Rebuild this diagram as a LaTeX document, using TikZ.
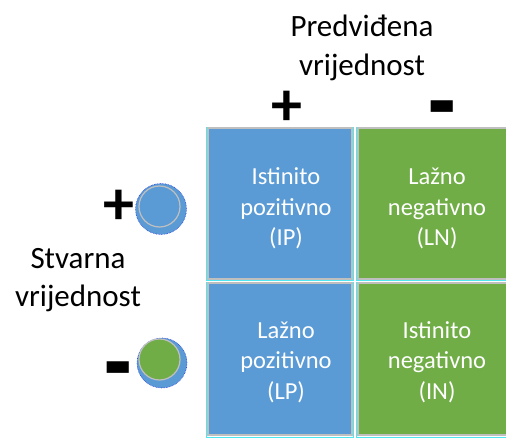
\documentclass[tikz,border=0pt]{standalone}
\usepackage{fontspec}
\setmainfont{Carlito}
\definecolor{cblue}{HTML}{5B9BD5}
\definecolor{cgreen}{HTML}{70AD47}
\definecolor{cgray}{HTML}{BFBFBF}
\definecolor{ccyan}{HTML}{4FE6F0}
\definecolor{cdot}{HTML}{2A3FE0}
\tikzset{
  cellbox/.style={draw=cgray, line width=1.5pt, minimum width=#1, inner sep=0pt, outer sep=0pt},
  cellbox/.default=144pt,
  halo/.style={draw=ccyan, line width=0.7pt},
  celltext/.style={text=white, align=center, font=\fontsize{24.5}{30.5}\selectfont, inner sep=0pt},
  headtext/.style={text=black, align=center, font=\fontsize{31}{38.5}\selectfont, inner sep=0pt},
  signtext/.style={text=black, font=\fontsize{62}{64}\bfseries\selectfont, inner sep=0pt},
  minustext/.style={text=black, font=\fontsize{56}{60}\bfseries\selectfont, inner sep=0pt, anchor=base},
  outerdisc/.style={circle, fill=cblue, draw=cdot, densely dotted, line width=0.6pt, minimum size=#1, inner sep=0pt},
  innerdisc/.style={circle, draw=cgray, line width=1.2pt, minimum size=41pt, inner sep=0pt},
}
\begin{document}
\begin{tikzpicture}[x=1pt,y=-1pt]
\clip (0,0) rectangle (506,438);
\fill[white] (0,0) rectangle (506,438);
% halos
\draw[halo] (206.8,127.3) rectangle (353,280.2);
\draw[halo] (356.8,127.3) rectangle (520,280.2);
\draw[halo] (206.8,282.3) rectangle (353,437.6);
\draw[halo] (356.8,282.3) rectangle (520,437.6);
% cells
\node[cellbox, fill=cblue, minimum height=151pt] (IP) at (280,203.5) {};
\node[cellbox=158pt, fill=cgreen, minimum height=151pt] (LN) at (437,203.5) {};
\node[cellbox, fill=cblue, minimum height=152pt] (LP) at (280,359) {};
\node[cellbox=158pt, fill=cgreen, minimum height=152pt] (IN) at (437,359) {};
\node[celltext] (tIP) at (286,208.5) {Istinito\\pozitivno\\(IP)};
\node[celltext] (tLN) at (437,208.5) {Lažno\\negativno\\(LN)};
\node[celltext] (tLP) at (286,362) {Lažno\\pozitivno\\(LP)};
\node[celltext] (tIN) at (437,362) {Istinito\\negativno\\(IN)};
% headers
\node[headtext] (pred) at (362,48) {Predviđena\\vrijednost};
\node[headtext] (stv) at (78,280) {Stvarna\\vrijednost};
% signs
\node[signtext] (pTop) at (287,108) {+};
\node[minustext] (mTop) at (442,139) {\scalebox{1.6}[2]{-}};
\node[signtext] (pLeft) at (119,207) {+};
\node[minustext] (mLeft) at (118,399) {\scalebox{1.6}[2]{-}};
% circles
\node[outerdisc=51pt] (cPos) at (161,209) {};
\node[innerdisc, fill=cblue] (cPosIn) at (159.5,206.5) {};
\node[outerdisc=50pt] (cNeg) at (162,363) {};
\node[innerdisc, fill=cgreen] (cNegIn) at (159.5,359.5) {};
\end{tikzpicture}
\end{document}
